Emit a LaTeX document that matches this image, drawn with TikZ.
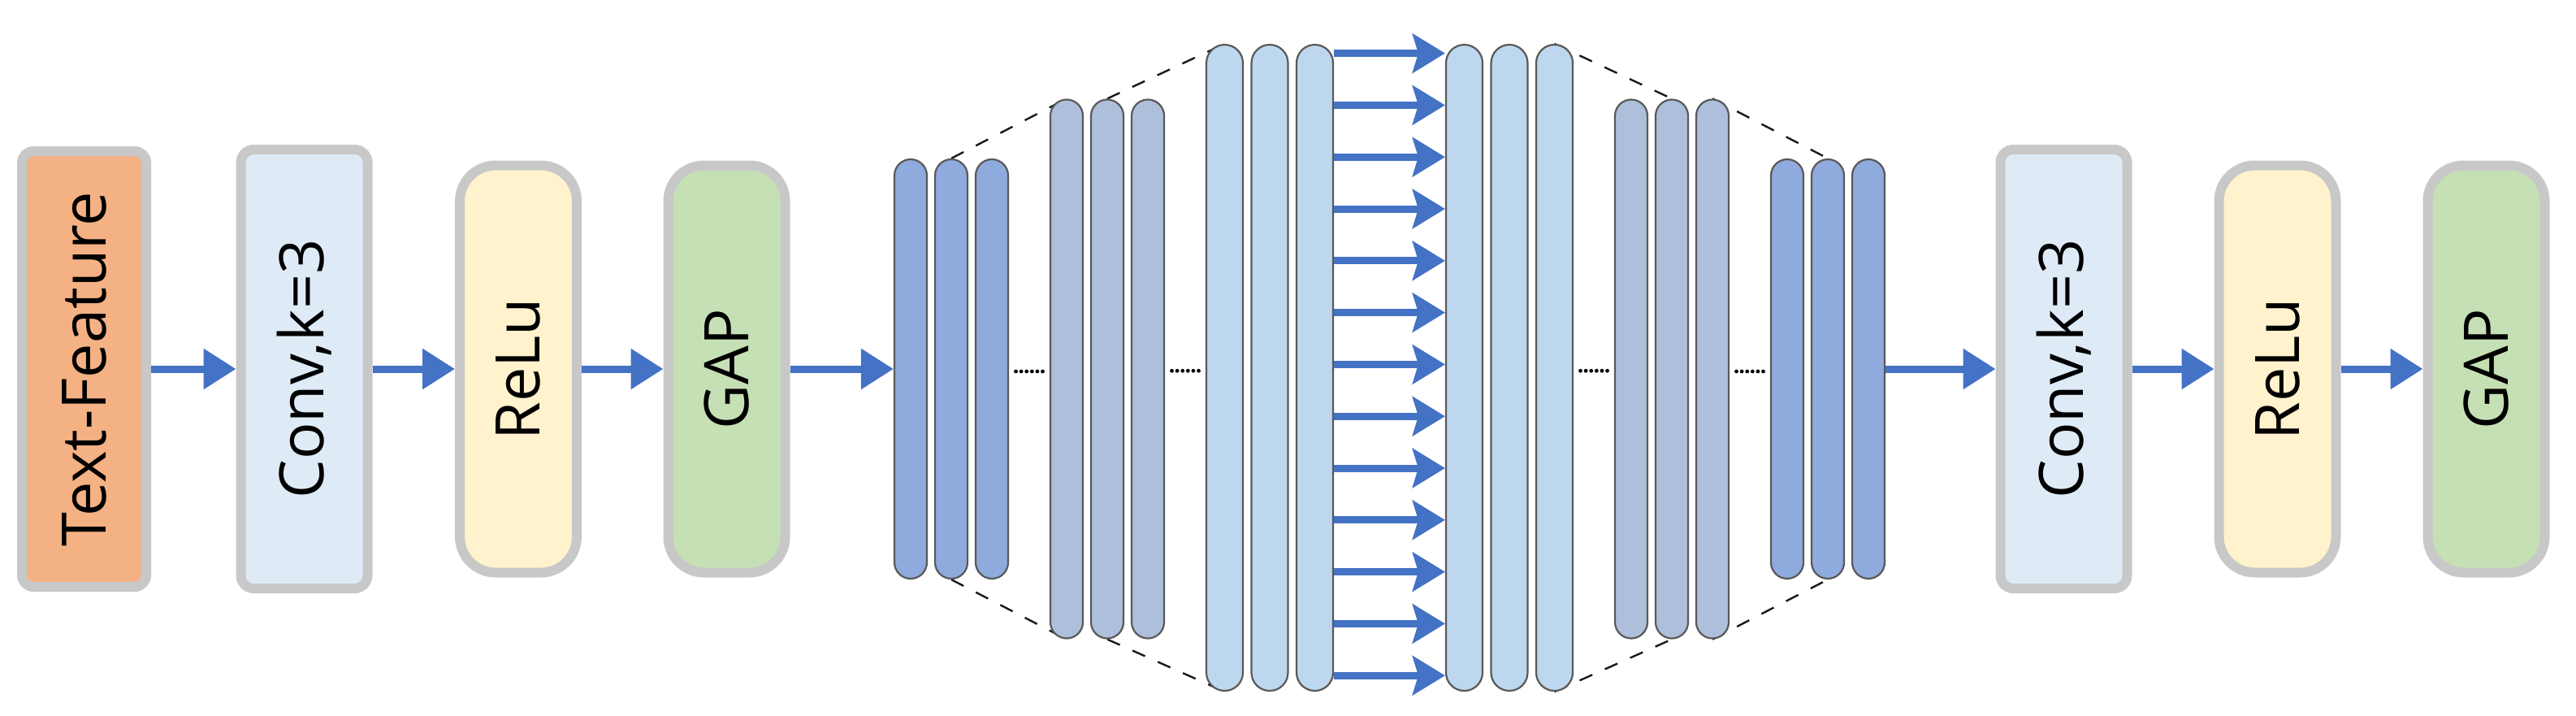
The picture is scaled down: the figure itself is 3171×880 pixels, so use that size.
\documentclass[tikz,border=0pt]{standalone}
\usepackage{fontspec}
\usepackage{graphicx}
\setmainfont{Open Sans}
\usetikzlibrary{arrows.meta,backgrounds,calc}
\definecolor{bord}{HTML}{C8C8C8}
\definecolor{orangef}{HTML}{F4B183}
\definecolor{bluef}{HTML}{DEEBF7}
\definecolor{yellowf}{HTML}{FFF2CC}
\definecolor{greenf}{HTML}{C5E0B4}
\definecolor{arrowblue}{HTML}{4472C4}
\definecolor{barA}{HTML}{8FAADC}
\definecolor{barB}{HTML}{AEBFDC}
\definecolor{barC}{HTML}{BDD7EE}
\definecolor{barline}{HTML}{595959}
\begin{document}
\begin{tikzpicture}[x=0.5pt,y=-0.5pt,
  block/.style={draw=bord, line width=6pt, inner sep=0pt,
    font=\fontsize{37.8pt}{40pt}\selectfont},
  convbox/.style={block, fill=bluef, minimum width=78pt, minimum height=270pt, rounded corners=8pt},
  relubox/.style={block, fill=yellowf, minimum width=72pt, minimum height=250.5pt, rounded corners=22pt},
  gapbox/.style={block, fill=greenf, minimum width=72pt, minimum height=250.5pt, rounded corners=22pt},
  bar/.style={draw=barline, line width=1.1pt, inner sep=0pt, minimum width=20pt, rounded corners=10pt},
  bigbar/.style={draw=barline, line width=1.1pt, inner sep=0pt, minimum width=22.5pt, rounded corners=11.25pt, fill=barC, minimum height=397.5pt},
  barone/.style={bar, fill=barA, minimum height=258pt},
  bartwo/.style={bar, fill=barB, minimum height=331.5pt},
  mainarrow/.style={draw=arrowblue, line width=4.5pt, -{Triangle[length=20pt,width=24pt]}},
  midarrow/.style={draw=arrowblue, line width=4.5pt, -{Stealth[length=20pt,width=24pt,inset=3.5pt]}},
  dashline/.style={draw=black!90, line width=1.2pt, dash pattern=on 8.5pt off 8.5pt},
  dotmark/.style={fill=black}
]
\useasboundingbox (0,0) rectangle (3171,880);

% left blocks
\node[block, fill=orangef, minimum width=76.5pt, minimum height=268pt, rounded corners=7pt] (tf) at (103.5,454) {\rotatebox{90}{Text-Feature}};
\node[convbox] (conv1) at (374.5,454) {\rotatebox{90}{Conv,k=3}};
\node[relubox] (relu1) at (638,454) {\rotatebox{90}{ReLu}};
\node[gapbox] (gap1) at (894.5,454) {\rotatebox{90}{GAP}};

% right blocks
\node[convbox] (conv2) at (2540.5,454) {\rotatebox{90}{Conv,k=3}};
\node[relubox] (relu2) at (2803.5,454) {\rotatebox{90}{ReLu}};
\node[gapbox] (gap2) at (3060.5,454) {\rotatebox{90}{GAP}};

% bar groups
\node[barone] (g1a) at (1121,454) {};
\node[barone] (g1b) at (1171,454) {};
\node[barone] (g1c) at (1221,454) {};
\node[bartwo] (g2a) at (1313,454) {};
\node[bartwo] (g2b) at (1363,454) {};
\node[bartwo] (g2c) at (1413,454) {};
\node[bigbar] (g3a) at (1507.5,452.5) {};
\node[bigbar] (g3b) at (1563,452.5) {};
\node[bigbar] (g3c) at (1618.5,452.5) {};
\node[bigbar] (g4a) at (1802.5,452.5) {};
\node[bigbar] (g4b) at (1858,452.5) {};
\node[bigbar] (g4c) at (1913.5,452.5) {};
\node[bartwo] (g5a) at (2008,454) {};
\node[bartwo] (g5b) at (2058,454) {};
\node[bartwo] (g5c) at (2108,454) {};
\node[barone] (g6a) at (2200,454) {};
\node[barone] (g6b) at (2250,454) {};
\node[barone] (g6c) at (2300,454) {};

% dashed outlines behind bars
\begin{scope}[on background layer]
  \draw[dashline] (g1b.north) -- (g2a.north);
  \draw[dashline] (g2b.north) -- (g3a.north);
  \draw[dashline] (g4c.north) -- (g5b.north);
  \draw[dashline] (g5c.north) -- (g6b.north);
  \draw[dashline] (g1b.south) -- (g2a.south);
  \draw[dashline] (g2b.south) -- (g3a.south);
  \draw[dashline] (g4c.south) -- (g5b.south);
  \draw[dashline] (g5c.south) -- (g6b.south);
\end{scope}

% dots between groups
\foreach \p/\q in {g1c/g2a, g2c/g3a, g4c/g5a, g5c/g6a}{
  \foreach \i in {0,...,5}{
    \fill[dotmark] ($(\p.east)!0.5!(\q.west) + ({(\i-2.5)*6.6},3)$) circle (2.4);
  }
}

% main arrows
\draw[mainarrow] (tf.east) -- (conv1.west);
\draw[mainarrow] (conv1.east) -- (relu1.west);
\draw[mainarrow] (relu1.east) -- (gap1.west);
\draw[mainarrow] (gap1.east) -- (g1a.west);
\draw[mainarrow] (g6c.east) -- (conv2.west);
\draw[mainarrow] (conv2.east) -- (relu2.west);
\draw[mainarrow] (relu2.east) -- (gap2.west);

% middle arrows
\foreach \k [evaluate=\k as \yy using 65.6+63.8*\k] in {0,...,12}{
  \draw[midarrow] (g3c.east |- 0,\yy) -- (g4a.west |- 0,\yy);
}
\end{tikzpicture}
\end{document}
